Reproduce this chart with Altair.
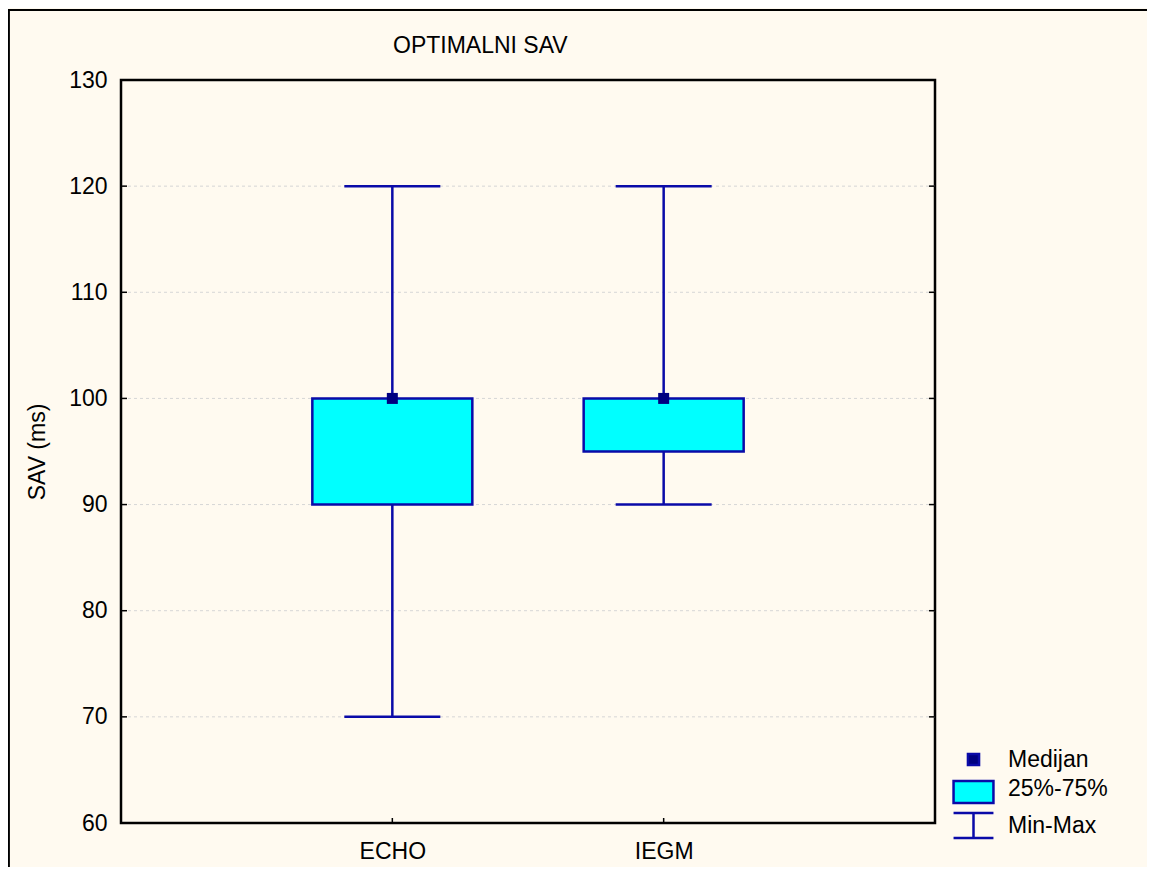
import altair as alt
import pandas as pd

groups = ["ECHO", "IEGM"]
mins = [70, 90]
q1s = [90, 95]
medians = [100, 100]
q3s = [100, 100]
maxs = [120, 120]
y_ticks = [60, 70, 80, 90, 100, 110, 120, 130]
grid_vals = [70, 80, 90, 100, 110, 120]
legend_labels = ["Medijan", "25%-75%", "Min-Max"]

df = pd.DataFrame({"group": groups, "min": mins, "q1": q1s, "median": medians,
                   "q3": q3s, "max": maxs})
ticks_df = pd.DataFrame({"v": y_ticks})
grid_df = pd.DataFrame({"v": grid_vals})
leg_df = pd.DataFrame({"item": legend_labels})

LINE = "#0A0AA8"
NAVY = "#000080"
CYAN = "#00FFFF"
FONT = "Liberation Sans"
FS = 23
W, H = 814, 743

xscale = alt.Scale(type="point", padding=1, domain=groups)
xaxis = alt.Axis(title=None, labelAngle=0, labelFontSize=FS, labelFont=FONT,
                 labelColor="black", ticks=False, tickSize=0, domain=False,
                 labelPadding=17, grid=False)
yscale = alt.Scale(domain=[60, 130], nice=False, zero=False)
yaxis = alt.Axis(title="SAV (ms)", values=y_ticks, labelFontSize=FS, labelFont=FONT,
                 labelColor="black", ticks=False, tickSize=0, domain=False,
                 labelPadding=14, grid=False, titleFontSize=FS, titleFont=FONT,
                 titleFontWeight="normal", titleColor="black", titlePadding=19)


def X():
    return alt.X("group:N", scale=xscale, axis=xaxis)


def Y(f):
    return alt.Y(f"{f}:Q", scale=yscale, axis=yaxis)


base = alt.Chart(df)

grid = alt.Chart(grid_df).mark_rule(color="#d6d6d6", strokeWidth=1,
                                    strokeDash=[3, 3]).encode(y=Y("v"))
whisker = base.mark_rule(color=LINE, strokeWidth=2.5, opacity=1).encode(
    x=X(), y=Y("min"), y2="max:Q")
cap_lo = base.mark_tick(color=LINE, thickness=2.5, size=96, opacity=1).encode(
    x=X(), y=Y("min"))
cap_hi = base.mark_tick(color=LINE, thickness=2.5, size=96, opacity=1).encode(
    x=X(), y=Y("max"))
box = base.mark_bar(fill=CYAN, stroke=LINE, strokeWidth=2.5, size=160, opacity=1).encode(
    x=X(), y=Y("q1"), y2="q3:Q")
med = base.mark_square(size=121, color=NAVY, opacity=1, filled=True).encode(
    x=X(), y=Y("median"))

tick_l = alt.Chart(ticks_df).mark_rule(color="black", strokeWidth=1.5).encode(
    y=Y("v"), x=alt.value(0), x2=alt.value(6))
tick_r = alt.Chart(ticks_df).mark_rule(color="black", strokeWidth=1.5).encode(
    y=Y("v"), x=alt.value(W - 6), x2=alt.value(W))
tick_b = base.mark_rule(color="black", strokeWidth=1.5).encode(
    x=X(), y=alt.value(H - 5), y2=alt.value(H))

paths = [
    "M-0.37,-0.37H0.37V0.37H-0.37Z",
    "M-1.33,-0.5H1.33V0.96H-1.33Z",
    "M-1.33,-0.83H1.33M0,-0.83V0.83M-1.33,0.83H1.33",
]
leg = alt.Legend(orient="none", legendX=836, legendY=663, direction="vertical",
                 title=None, labelFontSize=FS, labelFont=FONT, labelColor="black",
                 labelOffset=18, rowPadding=0, symbolSize=900, symbolStrokeWidth=2.5,
                 symbolStrokeColor=LINE, symbolOpacity=1, padding=0)
legend_layer = alt.Chart(leg_df).mark_point(opacity=0, strokeWidth=2.5,
                                            size=900).encode(
    fill=alt.Fill("item:N", scale=alt.Scale(domain=legend_labels,
                                            range=[NAVY, CYAN, "transparent"]),
                  legend=leg),
    stroke=alt.Stroke("item:N", scale=alt.Scale(domain=legend_labels,
                                                range=[LINE, LINE, LINE]),
                      legend=leg),
    shape=alt.Shape("item:N", scale=alt.Scale(domain=legend_labels, range=paths),
                    legend=leg),
)

frame_top = alt.Chart(ticks_df).mark_rule(color="black", strokeWidth=1.5).encode(
    x=alt.value(-113), x2=alt.value(1030), y=alt.value(-70))
frame_left = alt.Chart(ticks_df).mark_rule(color="black", strokeWidth=1.5).encode(
    x=alt.value(-112.5), y=alt.value(-70), y2=alt.value(790))

chart = alt.layer(
    grid, whisker, cap_lo, cap_hi, box, med, tick_l, tick_r, tick_b, legend_layer,
    frame_top, frame_left,
).properties(
    width=W, height=H,
    title=alt.TitleParams("OPTIMALNI SAV", anchor="start", frame="group", dx=272,
                          dy=67, offset=0, baseline="alphabetic", fontSize=FS,
                          fontWeight="normal", font=FONT, color="black"),
    autosize=alt.AutoSizeParams(type="none"),
    padding={"left": 113, "top": 72, "right": 212, "bottom": 44},
    background="#FFFAF0",
).configure_view(
    stroke="black", strokeWidth=2.5, fill="white"
)

chart.save("out.html", embed_options={"renderer": "svg", "actions": False})
